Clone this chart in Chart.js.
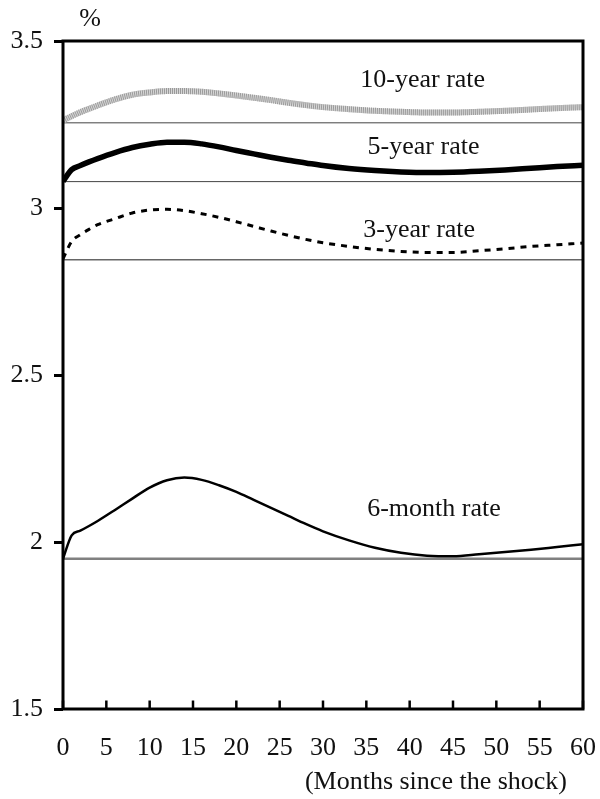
<!DOCTYPE html>
<html>
<head>
<meta charset="utf-8">
<script src="https://cdn.jsdelivr.net/npm/chart.js@4.4.1/dist/chart.umd.min.js"></script>
<style>
  html, body { margin: 0; padding: 0; background: #fff; }
  #wrap { width: 600px; height: 799px; }
</style>
</head>
<body>
<div id="wrap"><canvas id="c" width="600" height="799"></canvas></div>
<script>
// ---- data ----
const months = [0,1,2,3,4,6,8,10,12,14,16,18,20,22,24,26,28,30,33,36,39,42,45,48,51,54,57,60];
const rate10y = [3.262,3.275,3.287,3.297,3.307,3.325,3.339,3.346,3.350,3.350,3.348,3.343,3.337,3.330,3.323,3.315,3.308,3.302,3.296,3.291,3.288,3.286,3.286,3.288,3.291,3.295,3.299,3.302];
const rate5y  = [3.080,3.115,3.127,3.138,3.148,3.166,3.181,3.191,3.197,3.197,3.192,3.183,3.172,3.162,3.152,3.143,3.135,3.127,3.118,3.112,3.108,3.106,3.107,3.110,3.114,3.119,3.124,3.128];
const rate3y  = [2.848,2.900,2.920,2.936,2.950,2.968,2.985,2.994,2.996,2.992,2.983,2.972,2.959,2.945,2.931,2.918,2.906,2.896,2.885,2.876,2.870,2.867,2.867,2.872,2.878,2.885,2.890,2.895];
const rate6m  = [1.950,2.020,2.034,2.048,2.063,2.096,2.130,2.163,2.185,2.193,2.186,2.170,2.150,2.126,2.102,2.078,2.054,2.032,2.005,1.983,1.968,1.959,1.957,1.963,1.970,1.977,1.985,1.993];
const baselines = [3.255, 3.079, 2.845, 1.950];   // 10y, 5y, 3y, 6m pre-shock levels
const seriesNames = ['10-year rate', '5-year rate', '3-year rate', '6-month rate'];
const yTickLabels = ['1.5', '2', '2.5', '3', '3.5'];
const xRange = [0, 60];
const yRange = [1.5, 3.5];
const unitLabel = '%';
const xAxisTitle = '(Months since the shock)';

// ---- presentation ----
const FONT = '"Liberation Serif", "Times New Roman", serif';
const FS = 26;
const labelAnchors = [[41.5, 3.382], [41.6, 3.183], [41.1, 2.934], [42.8, 2.098]];

const pts = (vals) => months.map((m, i) => ({ x: m, y: vals[i] }));
const flat = (v) => [{ x: xRange[0], y: v }, { x: xRange[1], y: v }];

const curveBase = { fill: false, pointRadius: 0, cubicInterpolationMode: 'monotone', order: 0 };
const baseStyles = [
  { color: '#444', width: 1 },
  { color: '#444', width: 1 },
  { color: '#666', width: 1.5 },
  { color: '#808080', width: 2.5 }
];

const datasets = [
  Object.assign({}, curveBase, { label: seriesNames[0], data: pts(rate10y), borderColor: '#9a9a9a', borderWidth: 6, borderDash: [1, 1], borderCapStyle: 'butt' }),
  Object.assign({}, curveBase, { label: seriesNames[0] + ' base', data: pts(rate10y), borderColor: '#d6d6d6', borderWidth: 6, order: 1 }),
  Object.assign({}, curveBase, { label: seriesNames[1], data: pts(rate5y), borderColor: '#000', borderWidth: 5.5 }),
  Object.assign({}, curveBase, { label: seriesNames[2], data: pts(rate3y), borderColor: '#000', borderWidth: 3, borderDash: [6, 6] }),
  Object.assign({}, curveBase, { label: seriesNames[3], data: pts(rate6m), borderColor: '#000', borderWidth: 2.5 })
];
baselines.forEach((v, i) => {
  datasets.push({ label: 'baseline ' + i, data: flat(v), borderColor: baseStyles[i].color, borderWidth: baseStyles[i].width, pointRadius: 0, fill: false, order: 5 });
});

const decorPlugin = {
  id: 'decor',
  afterDraw(chart) {
    const { ctx, chartArea: a, scales } = chart;
    const xs = scales.x, ys = scales.y;
    ctx.save();
    // frame
    ctx.strokeStyle = '#000';
    ctx.lineWidth = 3;
    ctx.strokeRect(a.left, a.top, a.right - a.left, a.bottom - a.top);
    // inward x ticks
    ctx.lineWidth = 2.5;
    xs.ticks.forEach(t => {
      const px = xs.getPixelForValue(t.value);
      ctx.beginPath();
      ctx.moveTo(px, a.bottom);
      ctx.lineTo(px, a.bottom - 8.5);
      ctx.stroke();
    });
    // series labels
    ctx.fillStyle = '#111';
    ctx.font = FS + 'px ' + FONT;
    ctx.textAlign = 'center';
    ctx.textBaseline = 'middle';
    seriesNames.forEach((n, i) => {
      ctx.fillText(n, xs.getPixelForValue(labelAnchors[i][0]), ys.getPixelForValue(labelAnchors[i][1]));
    });
    // unit
    ctx.fillText(unitLabel, a.left + 27, a.top - 22);
    // x-axis title
    ctx.textAlign = 'right';
    ctx.fillText(xAxisTitle, a.right - 16, 782);
    ctx.restore();
  }
};

new Chart(document.getElementById('c'), {
  type: 'line',
  data: { datasets },
  options: {
    responsive: false,
    devicePixelRatio: 1,
    animation: false,
    layout: { padding: { left: 0, right: 17, top: 41, bottom: 0 } },
    plugins: { legend: { display: false }, tooltip: { enabled: false } },
    scales: {
      x: {
        type: 'linear', min: xRange[0], max: xRange[1],
        ticks: { stepSize: 5, color: '#111', font: { family: FONT, size: FS }, padding: 24, maxRotation: 0, autoSkip: false },
        grid: { display: false, drawTicks: false },
        border: { display: false },
        afterFit(s) { s.height = 90; s.paddingLeft = 0; s.paddingRight = 0; }
      },
      y: {
        type: 'linear', min: yRange[0], max: yRange[1],
        ticks: {
          stepSize: 0.5, color: '#111', font: { family: FONT, size: FS }, padding: 11,
          callback: (v) => { const i = Math.round((v - yRange[0]) / 0.5); return yTickLabels[i]; }
        },
        grid: { display: true, drawOnChartArea: false, drawTicks: true, tickLength: 9, lineWidth: 3, color: '#000' },
        border: { display: false },
        afterFit(s) { s.width = 63; s.paddingTop = 0; s.paddingBottom = 0; }
      }
    }
  },
  plugins: [decorPlugin]
});
</script>
</body>
</html>
